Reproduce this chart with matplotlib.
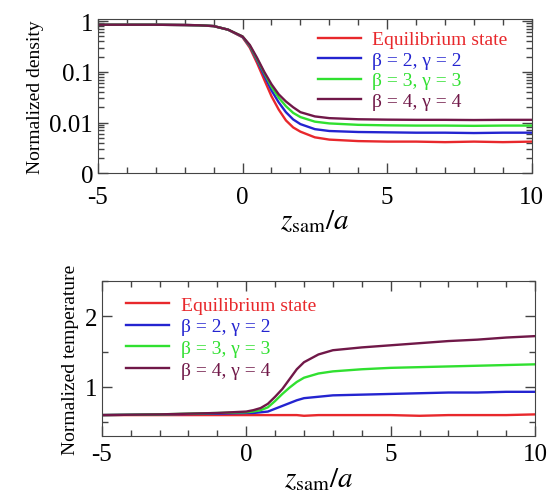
import numpy as np
import matplotlib
matplotlib.use("Agg")
from matplotlib import pyplot as plt
from matplotlib.ticker import MultipleLocator, LogLocator, NullFormatter

plt.rcParams['font.family'] = ['Liberation Serif', 'DejaVu Serif']
plt.rcParams['mathtext.fontset'] = 'stix'

# density profiles
x_d = [-5, -4, -3, -2, -1.5, -1, -0.5, 0, 0.25, 0.5, 0.75, 1.0, 1.25, 1.5,
       1.75, 2.0, 2.5, 3.0, 4.0, 5.0, 6.0, 7.0, 8.0, 9.0, 10.0]
dens_eq = [0.85, 0.85, 0.85, 0.84, 0.83, 0.80, 0.68, 0.48, 0.30, 0.15, 0.07,
           0.033, 0.018, 0.011, 0.008, 0.0066, 0.0051, 0.0046, 0.0043, 0.0042,
           0.0042, 0.0041, 0.0042, 0.0041, 0.0042]
dens_b2 = [0.85, 0.85, 0.85, 0.84, 0.83, 0.80, 0.68, 0.49, 0.32, 0.17, 0.085,
           0.043, 0.025, 0.016, 0.0115, 0.0093, 0.0074, 0.0068, 0.0065, 0.0064,
           0.0063, 0.0063, 0.0062, 0.0063, 0.0063]
dens_b3 = [0.85, 0.85, 0.85, 0.84, 0.83, 0.80, 0.68, 0.50, 0.33, 0.18, 0.095,
           0.051, 0.031, 0.021, 0.0155, 0.0128, 0.0104, 0.0096, 0.0090, 0.0088,
           0.0087, 0.0087, 0.0086, 0.0087, 0.0087]
dens_b4 = [0.85, 0.85, 0.85, 0.84, 0.83, 0.80, 0.68, 0.50, 0.34, 0.19, 0.10,
           0.057, 0.036, 0.026, 0.020, 0.016, 0.0132, 0.0122, 0.0116, 0.0114,
           0.0113, 0.0113, 0.0112, 0.0113, 0.0113]

# temperature profiles
x_t = [-5, -3, -1, 0, 0.25, 0.5, 0.75, 1, 1.25, 1.5, 1.75, 2, 2.5, 3, 4, 5,
       6, 7, 8, 9, 10]
temp_eq = [0.60, 0.60, 0.60, 0.60, 0.60, 0.60, 0.60, 0.60, 0.60, 0.60, 0.60,
           0.59, 0.60, 0.60, 0.60, 0.60, 0.59, 0.60, 0.60, 0.60, 0.61]
temp_b2 = [0.60, 0.61, 0.62, 0.63, 0.63, 0.64, 0.65, 0.69, 0.73, 0.77, 0.81,
           0.84, 0.86, 0.88, 0.89, 0.90, 0.91, 0.92, 0.92, 0.93, 0.93]
temp_b3 = [0.60, 0.61, 0.63, 0.64, 0.65, 0.67, 0.71, 0.80, 0.90, 0.99, 1.07,
           1.13, 1.19, 1.22, 1.25, 1.27, 1.28, 1.29, 1.30, 1.31, 1.32]
temp_b4 = [0.60, 0.61, 0.63, 0.65, 0.67, 0.70, 0.76, 0.86, 0.97, 1.11, 1.25,
           1.35, 1.46, 1.52, 1.56, 1.59, 1.62, 1.65, 1.67, 1.70, 1.72]

labels = ["Equilibrium state", "β = 2, γ = 2", "β = 3, γ = 3", "β = 4, γ = 4"]
colors = ["#e8282c", "#2424d0", "#30e030", "#701848"]

fig = plt.figure(figsize=(5.5, 5.02), dpi=100)
ax1 = fig.add_axes([0.178, 0.653, 0.789, 0.307])
ax2 = fig.add_axes([0.185, 0.129, 0.788, 0.309])

for ys, c, lab in zip([dens_eq, dens_b2, dens_b3, dens_b4], colors, labels):
    ax1.plot(x_d, ys, color=c, lw=1.7, label=lab)
for ys, c, lab in zip([temp_eq, temp_b2, temp_b3, temp_b4], colors, labels):
    ax2.plot(x_t, ys, color=c, lw=1.7, label=lab)

ax1.set_yscale('log')
ax1.set_ylim(0.001, 1.1)
ax1.set_yticks([0.001, 0.01, 0.1, 1])
ax1.set_yticklabels(['0', '0.01', '0.1', '1'])
ax1.yaxis.set_minor_locator(LogLocator(base=10, subs=np.arange(2, 10)))
ax1.yaxis.set_minor_formatter(NullFormatter())
ax1.set_ylabel('Normalized density', fontsize=14)

ax2.set_ylim(0.3, 2.5)
ax2.set_yticks([1, 2])
ax2.yaxis.set_minor_locator(MultipleLocator(0.5))
ax2.set_ylabel('Normalized temperature', fontsize=14)

for ax in (ax1, ax2):
    ax.set_xlim(-5, 10)
    ax.set_xticks([-5, 0, 5, 10])
    ax.set_xticklabels(['-5', '0', '5', '10'])
    ax.xaxis.set_minor_locator(MultipleLocator(1))
    ax.tick_params(which='both', direction='in', top=True, right=True,
                   labelsize=18, color='#444444')
    ax.tick_params(which='major', length=7, width=1)
    ax.tick_params(which='minor', length=4, width=1)
    for s in ax.spines.values():
        s.set_color('#444444')
    ax.set_xlabel(r'$z_{\rm sam}/a$', fontsize=21, labelpad=0)

ax1.tick_params(axis='x', which='major', pad=9)
ax2.tick_params(axis='x', which='major', pad=5)

ax1.legend(loc='upper left', bbox_to_anchor=(0.48, 1.0), frameon=False,
           fontsize=14, labelcolor='linecolor', handlelength=2.2,
           handletextpad=0.6, labelspacing=0.15, borderaxespad=0.2)
ax2.legend(loc='upper left', bbox_to_anchor=(0.03, 0.98), frameon=False,
           fontsize=14, labelcolor='linecolor', handlelength=2.2,
           handletextpad=0.6, labelspacing=0.22, borderaxespad=0.2)

fig.savefig('out.png', dpi=100)
